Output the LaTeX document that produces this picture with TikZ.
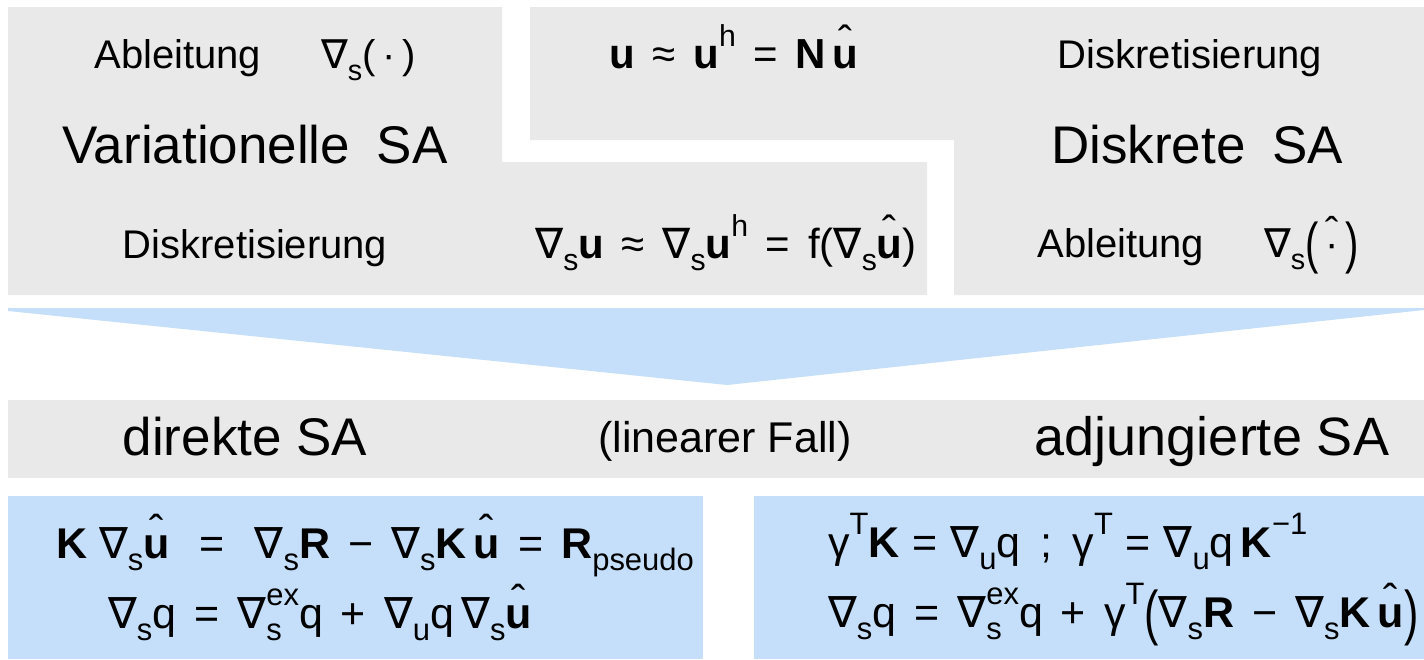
\documentclass[tikz,border=0pt]{standalone}
\usepackage{fontspec}
\setmainfont{Liberation Sans}
\newfontfamily\dvs{DejaVu Sans}
\usepackage{graphicx}
\definecolor{boxgray}{RGB}{233,233,233}
\definecolor{boxblue}{RGB}{197,222,249}
\newcommand\nab{{\dvs ∇}}
\newcommand\lo[1]{\raisebox{-0.3em}{\scalebox{0.72}{#1}}}
\newcommand\hi[1]{\raisebox{0.52em}{\scalebox{0.72}{#1}}}
\newcommand\hilo[2]{\setbox1=\hbox{\hi{#1}}\setbox2=\hbox{\lo{#2}}\ifdim\wd1>\wd2\rlap{\box2}\box1\else\rlap{\box1}\box2\fi}
\newcommand\rel[1]{\hspace{0.42em}#1\hspace{0.42em}}
\newcommand\rels[1]{\hspace{0.3em}#1\hspace{0.3em}}
\newcommand\bu{\textbf{u}}
\newcommand\hu{\mbox{\setbox0=\hbox{\bfseries u}\rlap{\hbox to \wd0{\hss\raisebox{0.3em}{\mdseries ˆ}\hss}}\box0}}
\newcommand\hdot{\mbox{\setbox0=\hbox{\,·\,}\rlap{\hbox to \wd0{\hss\raisebox{0.3em}{ˆ}\hss}}\box0}}
\newcommand\tall[1]{\raisebox{-0.14em}{\scalebox{1}[1.4]{#1}}}
\tikzset{
  txt/.style={anchor=base, inner sep=0pt},
  txtw/.style={anchor=base west, inner sep=0pt},
  sz/.style={font=\fontsize{#1}{#1}\selectfont},
  grayfill/.style={fill=boxgray, draw=none},
  bluefill/.style={fill=boxblue, draw=none}
}
\begin{document}
\begin{tikzpicture}[x=1pt,y=-1pt]
\useasboundingbox (0,0) rectangle (1424,659);
% gray shapes
\path[grayfill] (8,7) -- (502,7) -- (502,162) -- (927,162) -- (927,295) -- (8,295) -- cycle;
\path[grayfill] (530,7) -- (1424,7) -- (1424,295) -- (954,295) -- (954,140) -- (530,140) -- cycle;
% arrow
\path[bluefill] (8,308) -- (1424,308) -- (1424,310) -- (727,385) -- (8,311) -- cycle;
% band
\path[grayfill] (8,400) rectangle (1424,478);
% bottom boxes
\path[bluefill] (8,496) rectangle (703,659);
\path[bluefill] (754,496) rectangle (1424,659);

% top texts
\node[txt, sz=40] (abl1) at (255,68) {Ableitung\hspace{1.5em}\nab\lo{s}(\,·\,)};
\node[txt, sz=53] (var) at (255,163) {Variationelle\hspace{0.5em}SA};
\node[txt, sz=40] (dis1) at (255,258) {Diskretisierung};
\node[txt, sz=42] (f1) at (734,68) {\bu\rel{≈}\bu\hi{h}\rel{=}\textbf{N}\,\hu};
\node[txt, sz=42] (f2) at (726,258) {\nab\lo{s}\bu\rel{≈}\nab\lo{s}\bu\hi{h}\rel{=}f(\nab\lo{s}\hu)};
\node[txt, sz=40] (dis2) at (1190,68) {Diskretisierung};
\node[txt, sz=53] (dsa) at (1197,163) {Diskrete\hspace{0.5em}SA};
\node[txt, sz=40] (abl2) at (1198,257) {Ableitung\hspace{1.5em}\nab\lo{s}\tall{(}\hdot\tall{)}};

% band texts
\node[txt, sz=53] (dir) at (245,455) {direkte SA};
\node[txt, sz=43] (lin) at (725,452) {(linearer Fall)};
\node[txt, sz=54] (adj) at (1212,455) {adjungierte SA};

% formulas
\node[txt, sz=43] (l1) at (375,558) {\textbf{K}\ \nab\lo{s}\hu\rel{\ =\ }\nab\lo{s}\textbf{R}\rel{−}\nab\lo{s}\textbf{K}\,\hu\rel{=}\textbf{R}\lo{pseudo}};
\node[txt, sz=43] (l2) at (320,628) {\nab\lo{s}q\rel{=}\nab\hilo{ex}{s}q\rel{+}\nab\lo{u}q\,\nab\lo{s}\hu};
\node[txtw, sz=43] (r1) at (828,557) {γ\hi{T}\textbf{K}\rels{=}\nab\lo{u}q\rels{\,;\,}γ\hi{T}\rels{=}\nab\lo{u}q\,\textbf{K}\hi{−1}};
\node[txtw, sz=43] (r2) at (828,627) {\nab\lo{s}q\rel{=}\nab\hilo{ex}{s}q\rel{+}γ\hi{T}\tall{(}\nab\lo{s}\textbf{R}\rel{−}\nab\lo{s}\textbf{K}\,\hu\tall{)}};
\end{tikzpicture}
\end{document}
